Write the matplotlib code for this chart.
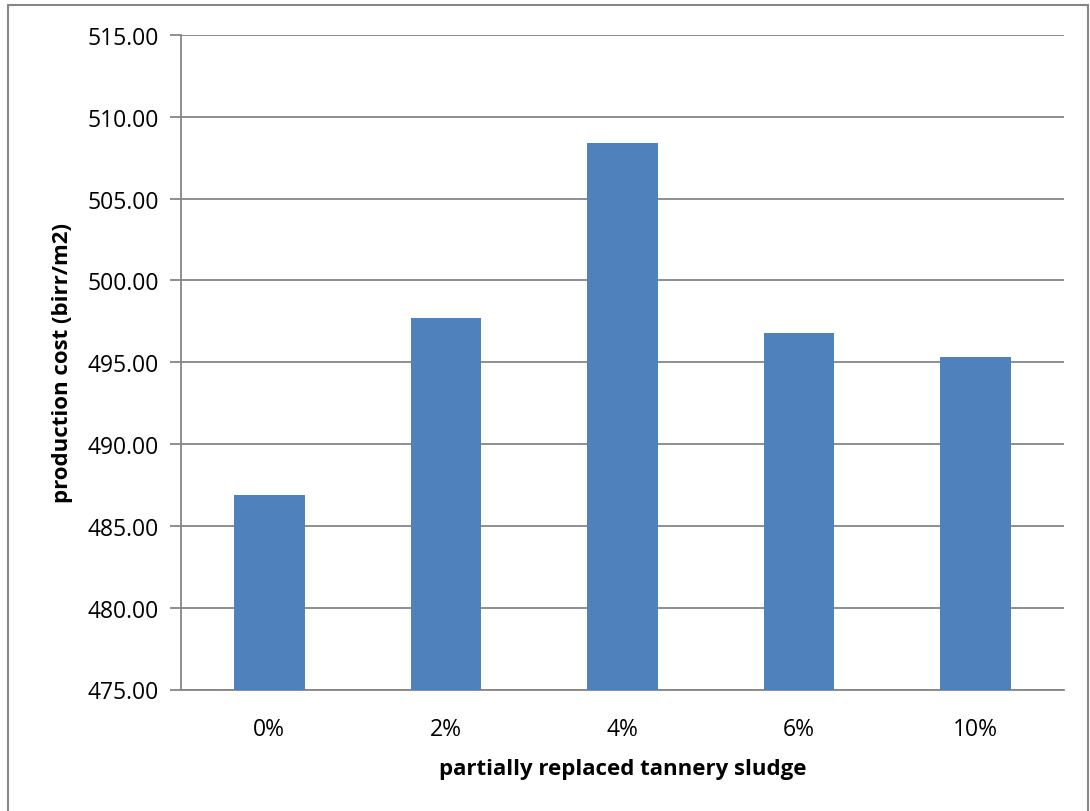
import matplotlib
matplotlib.use("Agg")
import matplotlib.pyplot as plt
from matplotlib.patches import Rectangle
from matplotlib.ticker import MultipleLocator, FormatStrFormatter

# data
categories = ["0%", "2%", "4%", "6%", "10%"]
costs = [486.9, 497.7, 508.4, 496.8, 495.3]

plt.rcParams["font.family"] = ["Open Sans", "DejaVu Sans"]

fig = plt.figure(figsize=(10.9, 8.12), dpi=100)
ax = fig.add_axes([181/1090, 1 - 690.5/812, (1064-181)/1090, (690.5-36)/812])

x = range(len(categories))
ax.bar(x, costs, width=0.4, color="#4f81bd", zorder=3)

ax.set_ylim(475, 515)
ax.set_xlim(-0.5, len(categories) - 0.5)
ax.yaxis.set_major_locator(MultipleLocator(5))
ax.yaxis.set_major_formatter(FormatStrFormatter("%.2f"))
ax.set_xticks(list(x))
ax.set_xticklabels(categories)

ax.grid(axis="y", color="#868686", linewidth=1.3, zorder=0)
for s in ["top", "right"]:
    ax.spines[s].set_visible(False)
for s in ["left", "bottom"]:
    ax.spines[s].set_color("#868686")
    ax.spines[s].set_linewidth(1.3)

ax.tick_params(axis="y", length=8, width=1.3, color="#868686", labelsize=16.5, pad=8)
ax.tick_params(axis="x", length=0, labelsize=16.5, pad=20)

ax.set_xlabel("partially replaced tannery sludge", fontsize=16, fontweight="bold", labelpad=12)
ax.set_ylabel("production cost (birr/m2)", fontsize=16, fontweight="bold", labelpad=10)

# outer chart frame
fig.patches.append(Rectangle((8/1090, -0.05), (1088-8)/1090, 1.05 - 6/812,
                             transform=fig.transFigure, fill=False,
                             edgecolor="#868686", linewidth=1.5))

fig.savefig("out.png", dpi=100)
